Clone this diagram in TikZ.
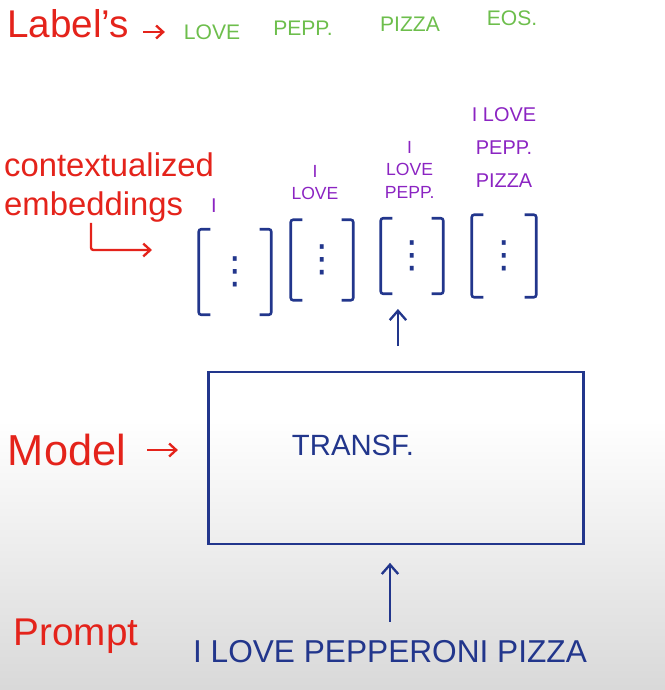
\documentclass[tikz,border=0pt]{standalone}
\usepackage{fontspec}
\setmainfont{Liberation Sans}
\newfontfamily\dejavu{DejaVu Sans}
\usetikzlibrary{shapes, arrows, arrows.meta, positioning}
\definecolor{inkred}{HTML}{E4231B}
\definecolor{inkgreen}{HTML}{6DBE4C}
\definecolor{inkpurple}{HTML}{8B24C2}
\definecolor{inkblue}{HTML}{22368C}

\begin{document}
\begin{tikzpicture}[x=0.03cm, y=-0.03cm]

\tikzstyle{redtext} = [text=inkred, inner sep=0pt]
\tikzstyle{greentext} = [text=inkgreen, font=\fontsize{18}{20}\selectfont, inner sep=0pt]
\tikzstyle{purpletext} = [text=inkpurple, font=\fontsize{15}{19}\selectfont, align=center, inner sep=0pt]
\tikzstyle{bluetext} = [text=inkblue, inner sep=0pt]
\tikzstyle{vector} = [minimum width=1.9cm, minimum height=2.4cm, text=inkblue, font=\dejavu\fontsize{32}{32}\selectfont]
\tikzstyle{bracket} = [draw=inkblue, line width=2.2pt, rounded corners=2pt]
\tikzstyle{box} = [rectangle, draw=inkblue, line width=2.2pt, minimum width=11.25cm, minimum height=5.16cm]
\tikzstyle{redarrow} = [draw=inkred, line width=2pt, ->, >={Straight Barb[length=6pt, width=11pt]}]
\tikzstyle{bluearrow} = [draw=inkblue, line width=2pt, ->, >={Straight Barb[length=8pt, width=14pt]}]

\useasboundingbox (0,0) rectangle (665,690);
\shade[top color=white, bottom color=black!15] (0,420) rectangle (665,690);

% labels
\node (lbl) [redtext, font=\fontsize{33}{36}\selectfont] at (68,24) {Label's};
\node (love) [greentext] at (212,32) {LOVE};
\node (pepp) [greentext] at (303,28) {PEPP.};
\node (pizza) [greentext] at (410,24) {PIZZA};
\node (eos) [greentext] at (512,18) {EOS.};
\draw [redarrow, shorten <=12pt, shorten >=16pt] (lbl.east |- love.west) -- (love.west);

% contextualized embeddings
\node (v1) [vector, minimum width=2.16cm, minimum height=2.55cm] at (235,272) {⋮};
\node (v2) [vector, minimum width=1.86cm] at (322,260) {⋮};
\node (v3) [vector, minimum width=1.86cm, minimum height=2.25cm] at (412,256) {⋮};
\node (v4) [vector, minimum width=1.92cm, minimum height=2.46cm] at (504,256) {⋮};
\foreach \v in {v1,v2,v3,v4} {
  \draw [bracket] ([xshift=10pt]\v.north west) -- (\v.north west) -- (\v.south west) -- ([xshift=10pt]\v.south west);
  \draw [bracket] ([xshift=-10pt]\v.north east) -- (\v.north east) -- (\v.south east) -- ([xshift=-10pt]\v.south east);
}

\node (c1) [purpletext, font=\fontsize{17}{19}\selectfont, above=14pt of v1, xshift=-18pt] {I};
\node (c2) [purpletext, above=17pt of v2, xshift=-6pt] {I\\LOVE};
\node (c3) [purpletext, above=17pt of v3, xshift=-2pt] {I\\LOVE\\PEPP.};
\node (c4) [purpletext, font=\fontsize{17}{28}\selectfont, above=23pt of v4] {I LOVE\\PEPP.\\PIZZA};

\node (ctx) [redtext, align=left, anchor=north west, font=\fontsize{28}{34}\selectfont] at (4,152) {contextualized\\embeddings};
\coordinate (ctxbend) at (91,250);
\coordinate (ctxend) at (152,250);
\draw [redarrow, rounded corners=2pt] (ctx.south -| ctxbend) -- (ctxbend) -- (ctxend);

% model
\node (tr) [box] at (396,458) {};
\node (trtext) [bluetext, font=\fontsize{25}{28}\selectfont] at (353,445) {TRANSF.};
\node (model) [redtext, font=\fontsize{37}{40}\selectfont] at (67,450) {Model};
\draw [redarrow, shorten <=18pt, shorten >=25pt] (model.east) -- (model.east -| tr.west);

\coordinate (up) at ([xshift=-12pt]v3.south);
\draw [bluearrow, shorten <=21pt, shorten >=13pt] (up |- tr.north) -- (up);

% prompt
\node (prompt) [bluetext, font=\fontsize{27}{30}\selectfont] at (390,652) {I LOVE PEPPERONI PIZZA};
\node (promptlbl) [redtext, font=\fontsize{33}{36}\selectfont] at (76,636) {Prompt};
\draw [bluearrow, shorten <=16pt, shorten >=15pt] (prompt.north) -- (prompt.north |- tr.south);

\end{tikzpicture}
\end{document}
